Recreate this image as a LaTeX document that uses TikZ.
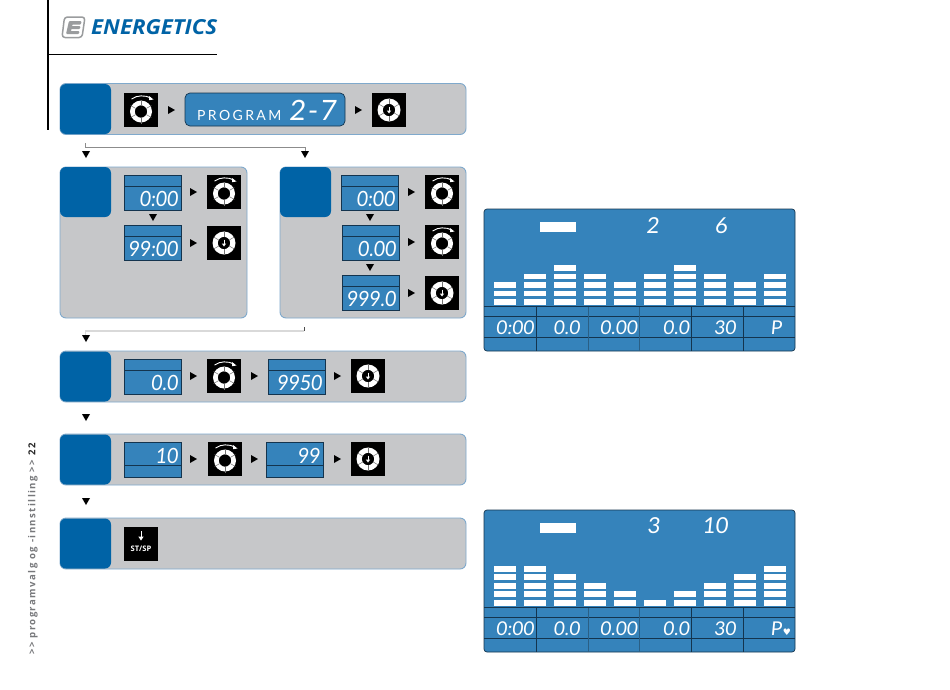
\documentclass[tikz,border=0pt]{standalone}
\usepackage{fontspec}
\setmainfont{Lato}
\newfontfamily\lcdfont{Lato}[FakeSlant=0.1]
\newfontfamily\sidefont{Open Sans}[LetterSpace=15]
\newfontfamily\progfont{Lato}[LetterSpace=17]
\newfontfamily\logofont{Open Sans}
\newfontfamily\symfont{DejaVu Sans}
\definecolor{panelgrey}{HTML}{C6C7C9}
\definecolor{paneledge}{HTML}{7FA9CC}
\definecolor{stepblue}{HTML}{0063A6}
\definecolor{lcdblue}{HTML}{3583BB}
\definecolor{lcdline}{HTML}{14344E}
\definecolor{lcdsoft}{HTML}{2A5F85}
\definecolor{logogrey}{HTML}{9A9C9E}
\definecolor{sidegrey}{HTML}{77787B}
\usetikzlibrary{calc}
\tikzset{
  panelbox/.style={draw=paneledge,fill=panelgrey,line width=.9pt,rounded corners=6pt,inner sep=0pt,minimum width=#1,minimum height=51pt},
  stepsquare/.style={fill=stepblue,rounded corners=6pt,inner sep=0pt,minimum width=51pt,minimum height=50pt},
  iconbox/.style={fill=black,inner sep=0pt,minimum width=34pt,minimum height=34pt},
  lcdbox/.style={fill=lcdblue,draw=lcdline,line width=.7pt,inner sep=0pt,minimum width=57pt,minimum height=35pt},
  lcdtext/.style={text=white,inner sep=0pt,anchor=base east,font=\lcdfont\fontsize{21}{21}\selectfont,xscale=.92},
  bigtext/.style={text=white,inner sep=0pt,anchor=base east,font=\lcdfont\fontsize{19}{19}\selectfont},
  toptext/.style={text=white,inner sep=0pt,anchor=base east,font=\lcdfont\fontsize{22}{22}\selectfont},
  bigdisplay/.style={fill=lcdblue,draw=lcdline,line width=.7pt,rounded corners=3pt,inner sep=0pt,minimum width=311pt,minimum height=142pt},
  gridline/.style={draw=lcdline,line width=.6pt},
  softline/.style={draw=lcdsoft,line width=.7pt},
  tri/.style={fill=black}
}
\newcommand{\rtri}[2]{\fill[tri] (#1,#2-4)--(#1+7,#2)--(#1,#2+4)--cycle;}
\newcommand{\dtri}[2]{\fill[tri] (#1-4,#2)--(#1+4,#2)--(#1,#2+7)--cycle;}
% ring of an icon
\newcommand{\ringat}[3]{%
  \fill[white,even odd rule] (#1,#2) circle[radius=#3pt] (#1,#2) circle[radius=6.2pt];
  \foreach \aa in {30,90,150,210,270,330}{\draw[black!55,line width=.5pt] ($(#1,#2)+(\aa:6pt)$)--($(#1,#2)+(\aa:12pt)$);}
}
\newcommand{\knob}[3]{% name, left, top
  \node[iconbox] (#1) at (#2+17,#3+17) {};
  \ringat{#2+17}{#3+18.5}{11}
  \draw[white,line width=.9pt] (#2+7.5,#3+6) .. controls (#2+13,#3+2) and (#2+21,#3+2) .. (#2+27,#3+5);
  \fill[white] (#2+29.5,#3+6.5)--(#2+25,#3+3)--(#2+25,#3+7.2)--cycle;
}
\newcommand{\push}[3]{%
  \node[iconbox] (#1) at (#2+17,#3+17) {};
  \ringat{#2+17}{#3+17}{11.5}
  \draw[white,line width=.7pt] (#2+17,#3+13.5)--(#2+17,#3+19);
  \fill[white] (#2+14.8,#3+17.5)--(#2+19.2,#3+17.5)--(#2+17,#3+20.5)--cycle;
}
\newcommand{\lcd}[6]{% name, left, top, divider offset, baseline offset, text
  \node[lcdbox] (#1) at (#2+28.5,#3+17.5) {};
  \draw[lcdline,line width=.7pt] (#2,#3+#4)--(#2+57,#3+#4);
  \node[lcdtext] at (#2+54,#3+#5) {#6};
}
\newcommand{\bars}[2]{% base y, levels
  \foreach \bx/\bn [count=\bi from 0] in {#2}{
    \foreach \bk in {1,...,\bn}{
      \fill[white] (494+\bi*30,#1-\bk*8.55+8.55-5.7) rectangle (516+\bi*30,#1-\bk*8.55+8.55);
    }
  }
}
\newcommand{\display}[2]{% name, top
  \node[bigdisplay] (#1) at (639.5,#2+71) {};
  \fill[white] (540,#2+13.3) rectangle (576,#2+23.3);
  \draw[lcdline,line width=.9pt] (484,#2+97.6)--(795,#2+97.6);
  \draw[gridline] (484,#2+107.6)--(795,#2+107.6);
  \draw[gridline] (484,#2+128.4)--(795,#2+128.4);
  \draw[gridline] (536.7,#2+97.6)--(536.7,#2+142);
  \draw[softline] (588.3,#2+97.6)--(588.3,#2+142);
  \draw[softline] (639.3,#2+97.6)--(639.3,#2+142);
  \draw[gridline] (691.3,#2+97.6)--(691.3,#2+142);
  \draw[gridline] (743.3,#2+97.6)--(743.3,#2+142);
  \node[bigtext] at (534,#2+125.5) {0:00};
  \node[bigtext] at (580,#2+125.5) {0.0};
  \node[bigtext] at (637.5,#2+125.5) {0.00};
  \node[bigtext] at (689.5,#2+125.5) {0.0};
  \node[bigtext] at (736,#2+125.5) {30};
  \node[bigtext] at (782,#2+125.5) {P};
}
\begin{document}
\begin{tikzpicture}[x=1pt,y=-1pt]
\useasboundingbox (0,0) rectangle (950,689);
\fill[white] (0,0) rectangle (950,689);
% header
\fill[black] (46.5,0) rectangle (48.5,130);
\draw[black,line width=.8pt] (48,54)--(217,54);
\fill[white,draw=logogrey,line width=1.5pt,rounded corners=3pt] (64.5,17)--(85,17)--(82,37.5)--(62,37.5)--cycle;
\fill[logogrey,rounded corners=1pt] (69,21)--(81.5,21)--(81,24.5)--(72,24.5)--(71.5,26)--(80.5,26)--(80,29)--(71,29)--(70.5,31)--(79.5,31)--(79,34)--(66,34)--cycle;
\node[text=stepblue,inner sep=0pt,anchor=west] (logotext) at (91,27.5) {\resizebox{126pt}{15pt}{\logofont\bfseries\itshape ENERGETICS}};
% side text
\node[rotate=90,inner sep=0pt,anchor=west,text=sidegrey] (sidelabel) at (33,655) {\sidefont\bfseries\fontsize{9.6}{10}\selectfont >> programvalg og -innstilling >> \textcolor{black!85}{22}};
% panel 1
\node[panelbox=406pt] (p1) at (263,109) {};
\node[stepsquare] (s1) at (85.5,109) {};
\knob{k1}{124}{93}
\rtri{168}{110}
\node[fill=lcdblue,draw=lcdline,line width=.7pt,rounded corners=5pt,minimum width=160pt,minimum height=33pt,inner sep=0pt] (progdisp) at (265,109.5) {};
\node[text=white,inner sep=0pt,anchor=base west] (progtext) at (197,120) {\progfont\fontsize{14}{14}\selectfont PROGRAM};
\node[text=white,inner sep=0pt,anchor=base east,font=\lcdfont\fontsize{28}{28}\selectfont] (progval) at (336,120) {2\kern2pt-\kern2pt7};
\rtri{355}{110}
\push{k2}{372}{93}
% split connector
\coordinate (j1a) at (85.5,143);
\coordinate (j1b) at (85.5,147);
\coordinate (j1c) at (305,147);
\coordinate (j1d) at (305,151);
\draw[black!45,line width=.7pt] (j1a)--(j1b)--(j1c)--(j1d);
\dtri{86}{151}
\dtri{305}{151}
% panel 2
\node[panelbox=187pt,minimum height=151pt] (p2) at (153.5,242.5) {};
\node[stepsquare] (s2) at (85.5,192) {};
\lcd{a1}{124}{175}{11}{31}{0:00}
\rtri{190}{192}
\knob{k3}{207}{175}
\dtri{153}{214}
\lcd{a2}{124}{225}{11}{31}{99:00}
\rtri{190}{243}
\push{k4}{207}{226}
% panel 3
\node[panelbox=186pt,minimum height=151pt] (p3) at (373,242.5) {};
\node[stepsquare] (s3) at (305.5,192) {};
\lcd{b1}{341}{175}{11}{31}{0:00}
\rtri{408}{192}
\knob{k5}{425}{175}
\dtri{370}{214}
\lcd{b2}{342}{225}{11}{31}{0.00}
\rtri{408}{242}
\knob{k6}{425}{225}
\dtri{370}{264}
\lcd{b3}{342}{275}{11}{31}{999.0}
\rtri{408}{293}
\push{k7}{425}{276}
% merge connector
\coordinate (j2a) at (304,331);
\coordinate (j2b) at (85.5,331);
\coordinate (j2c) at (85.5,335);
\coordinate (j2t) at (304,327);
\draw[black!15,line width=1.6pt] (j2a)--(j2b)--(j2c);
\draw[black!70,line width=.5pt] (j2t)--(j2a);
\dtri{86}{335}
% panel 4
\node[panelbox=406pt] (p4) at (263,376.5) {};
\node[stepsquare] (s4) at (85.5,376.5) {};
\lcd{c1}{124}{359}{11}{31}{0.0}
\rtri{190}{376}
\knob{k8}{207}{359}
\rtri{251}{376}
\lcd{c2}{268}{359}{11}{31}{9950}
\rtri{334}{376}
\push{k9}{351}{359}
\dtri{86}{414}
% panel 5
\node[panelbox=406pt] (p5) at (263,459.5) {};
\node[stepsquare] (s5) at (85.5,459.5) {};
\lcd{d1}{124}{442}{23}{21}{10}
\rtri{190}{459}
\knob{k10}{208}{442}
\rtri{251}{459}
\lcd{d2}{266}{442}{23}{21}{99}
\rtri{334}{459}
\push{k11}{351}{442}
\dtri{86}{498}
% panel 6
\node[panelbox=406pt] (p6) at (263,543.5) {};
\node[stepsquare] (s6) at (85.5,543.5) {};
\node[iconbox] (k12) at (141,544) {};
\node[text=white,inner sep=0pt] (stsp) at (141,548.5) {\logofont\bfseries\fontsize{7.6}{8}\selectfont ST/SP};
\draw[white,line width=.9pt] (141,531)--(141,538);
\fill[white] (138.3,536.5)--(143.7,536.5)--(141,540.5)--cycle;
% display 1
\display{disp1}{209}
\bars{305}{a/3,a/4,a/5,a/4,a/3,a/4,a/5,a/4,a/3,a/4}
\node[toptext] at (659,233) {2};
\node[toptext] at (727.5,233) {6};
% display 2
\display{disp2}{510}
\bars{605.7}{a/5,a/5,a/4,a/3,a/2,a/1,a/2,a/3,a/4,a/5}
\node[toptext] at (660,533.5) {3};
\node[toptext] at (728,533.5) {10};
\node[text=white,inner sep=0pt] (heart) at (787,632) {\symfont\fontsize{9}{9}\selectfont ♥};
\end{tikzpicture}
\end{document}
